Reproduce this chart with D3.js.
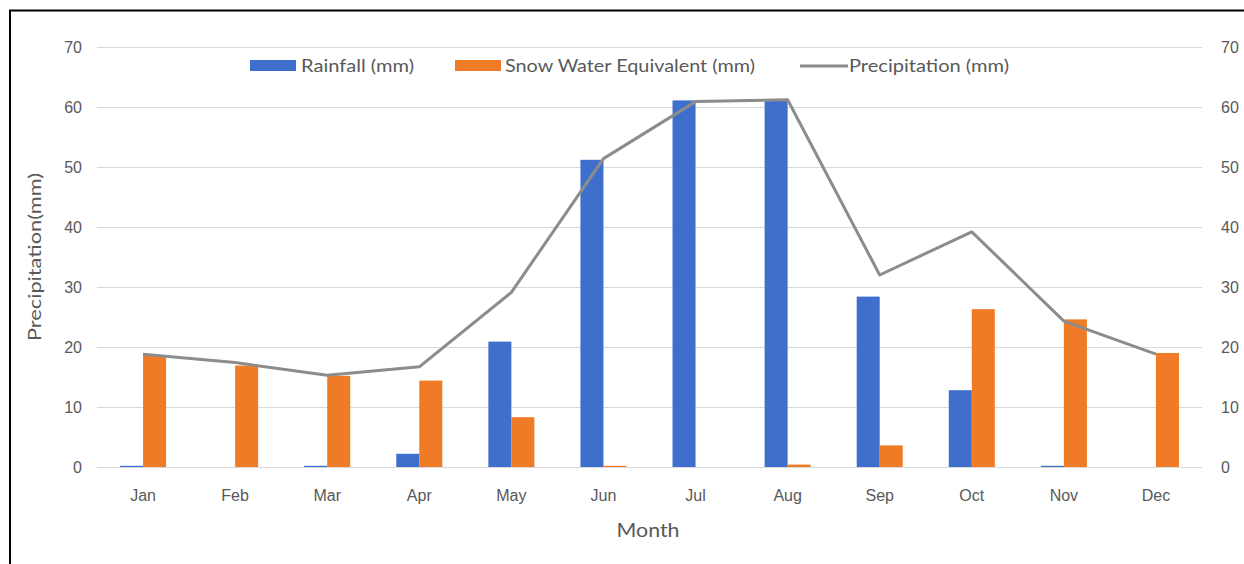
<!DOCTYPE html>
<html>
<head>
<meta charset="utf-8">
<script src="https://cdn.jsdelivr.net/npm/d3@7"></script>
<style>
  html, body { margin: 0; padding: 0; background: #fff; }
  svg { display: block; font-family: Lato, "Open Sans", "Liberation Sans", sans-serif; }
</style>
</head>
<body>
<svg id="chart" width="1244" height="564"></svg>
<script>
// Monthly precipitation split into rainfall and snow water equivalent
const months = ["Jan", "Feb", "Mar", "Apr", "May", "Jun", "Jul", "Aug", "Sep", "Oct", "Nov", "Dec"];
const rainfall = [0.2, 0, 0.2, 2.2, 20.9, 51.2, 61.1, 61.0, 28.4, 12.8, 0.2, 0];
const snowWater = [18.6, 16.9, 15.2, 14.4, 8.3, 0.2, 0, 0.4, 3.6, 26.3, 24.6, 19.0];
const precipitation = [18.8, 17.4, 15.3, 16.7, 29.1, 51.4, 60.9, 61.2, 32.0, 39.2, 24.3, 18.8];
const yTicks = [0, 10, 20, 30, 40, 50, 60, 70];
const seriesNames = ["Rainfall (mm)", "Snow Water Equivalent (mm)", "Precipitation (mm)"];

const colors = { rain: "#3F6FCD", snow: "#EF7B26", line: "#8C8C8C", grid: "#D9D9D9", text: "#595959" };

const svg = d3.select("#chart");

// frame lines along the top and left edges
svg.append("line").attr("x1", 9).attr("x2", 1244).attr("y1", 10.5).attr("y2", 10.5)
  .attr("stroke", "#000").attr("stroke-width", 2);
svg.append("line").attr("x1", 10).attr("x2", 10).attr("y1", 10).attr("y2", 564)
  .attr("stroke", "#000").attr("stroke-width", 2);

const x = d3.scaleBand().domain(months).range([97, 1202]).paddingInner(0).paddingOuter(0);
const sub = d3.scaleBand().domain(["rain", "snow"]).range([0, x.bandwidth()]).paddingInner(0).paddingOuter(1);
const y = d3.scaleLinear().domain([0, 70]).range([467, 47]);
const yRight = d3.scaleLinear().domain([0, 70]).range([467, 47]);

// horizontal gridlines
svg.append("g").selectAll("line").data(yTicks).join("line")
  .attr("x1", x.range()[0]).attr("x2", x.range()[1])
  .attr("y1", d => Math.round(y(d)) + 0.5).attr("y2", d => Math.round(y(d)) + 0.5)
  .attr("stroke", colors.grid).attr("stroke-width", 1);

// left axis
const leftAxis = svg.append("g").attr("transform", "translate(86,0)")
  .call(d3.axisLeft(y).tickValues(yTicks).tickSize(0).tickPadding(4));
leftAxis.select(".domain").remove();
leftAxis.selectAll("text").attr("fill", colors.text).attr("font-size", 16).attr("font-family", null);

// right axis
const rightAxis = svg.append("g").attr("transform", "translate(1217,0)")
  .call(d3.axisRight(yRight).tickValues(yTicks).tickSize(0).tickPadding(4));
rightAxis.select(".domain").remove();
rightAxis.selectAll("text").attr("fill", colors.text).attr("font-size", 16).attr("font-family", null);

// bottom axis (month labels)
const bottomAxis = svg.append("g").attr("transform", "translate(0,484)")
  .call(d3.axisBottom(x).tickSize(0).tickPadding(6));
bottomAxis.select(".domain").remove();
bottomAxis.selectAll("text").attr("fill", colors.text).attr("font-size", 16).attr("font-family", null);

// bars
const groups = svg.append("g").selectAll("g").data(months).join("g")
  .attr("transform", d => `translate(${x(d)},0)`);
groups.append("rect")
  .attr("x", sub("rain")).attr("width", sub.bandwidth())
  .attr("y", (d, i) => y(rainfall[i])).attr("height", (d, i) => y(0) - y(rainfall[i]))
  .attr("fill", colors.rain);
groups.append("rect")
  .attr("x", sub("snow")).attr("width", sub.bandwidth())
  .attr("y", (d, i) => y(snowWater[i])).attr("height", (d, i) => y(0) - y(snowWater[i]))
  .attr("fill", colors.snow);

// total precipitation line
const line = d3.line()
  .x((d, i) => x(months[i]) + x.bandwidth() / 2)
  .y(d => yRight(d));
svg.append("path").datum(precipitation)
  .attr("d", line).attr("fill", "none")
  .attr("stroke", colors.line).attr("stroke-width", 3).attr("stroke-linejoin", "round");

// axis titles
svg.append("text").attr("transform", "translate(41,257) rotate(-90)")
  .attr("text-anchor", "middle").attr("fill", colors.text).attr("font-size", 17)
  .attr("textLength", 168).attr("lengthAdjust", "spacingAndGlyphs")
  .text("Precipitation(mm)");
svg.append("text").attr("x", 648).attr("y", 537)
  .attr("text-anchor", "middle").attr("fill", colors.text).attr("font-size", 20)
  .attr("textLength", 63).attr("lengthAdjust", "spacingAndGlyphs")
  .text("Month");

// legend
const legend = svg.append("g");
const legendItems = [
  { name: seriesNames[0], type: "rect", color: colors.rain, x: 250, tx: 301, w: 113 },
  { name: seriesNames[1], type: "rect", color: colors.snow, x: 455, tx: 505, w: 250 },
  { name: seriesNames[2], type: "line", color: colors.line, x: 800, tx: 849, w: 160 }
];
legendItems.forEach(item => {
  if (item.type === "rect") {
    legend.append("rect").attr("x", item.x).attr("y", 60).attr("width", 46).attr("height", 11)
      .attr("fill", item.color);
  } else {
    legend.append("line").attr("x1", item.x).attr("x2", item.x + 48).attr("y1", 66).attr("y2", 66)
      .attr("stroke", item.color).attr("stroke-width", 3);
  }
  legend.append("text").attr("x", item.tx).attr("y", 72)
    .attr("fill", colors.text).attr("font-size", 17)
    .attr("textLength", item.w).attr("lengthAdjust", "spacingAndGlyphs")
    .text(item.name);
});
</script>
</body>
</html>
